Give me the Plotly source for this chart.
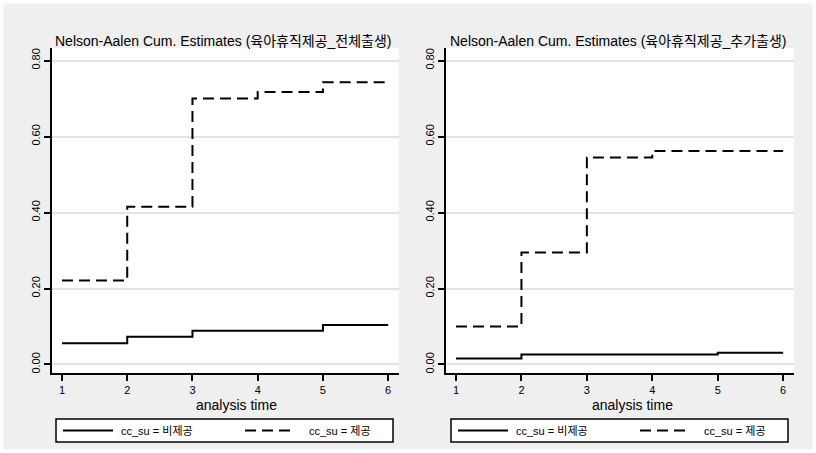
import plotly.graph_objects as go

# ---- data ----
times = [1, 2, 3, 4, 5, 6]
left_nonprov = [0.056, 0.073, 0.089, 0.089, 0.104, 0.104]
left_prov = [0.221, 0.415, 0.700, 0.717, 0.743, 0.743]
right_nonprov = [0.016, 0.026, 0.026, 0.026, 0.031, 0.031]
right_prov = [0.100, 0.295, 0.545, 0.562, 0.562, 0.562]
titles = ["Nelson-Aalen Cum. Estimates (육아휴직제공_전체출생)",
          "Nelson-Aalen Cum. Estimates (육아휴직제공_추가출생)"]
legend_labels = ["cc_su = 비제공", "cc_su = 제공"]
yticks = [0.0, 0.2, 0.4, 0.6, 0.8]
ytick_labels = ["0.00", "0.20", "0.40", "0.60", "0.80"]
xticks = [1, 2, 3, 4, 5, 6]
xlabel = "analysis time"

W, H = 816, 453
FONT = "Liberation Sans, Noto Sans CJK KR, sans-serif"
BG = "#efefef"

def px(x):
    return x / W

def py(y):
    return 1 - y / H

fig = go.Figure()

panels = [
    dict(xa="x", ya="y", x0=52, x1=399, data=(left_nonprov, left_prov)),
    dict(xa="x2", ya="y2", x0=446, x1=794, data=(right_nonprov, right_prov)),
]

for p in panels:
    nonprov, prov = p["data"]
    fig.add_trace(go.Scatter(x=times, y=nonprov, mode="lines", line_shape="hv",
                             line=dict(color="black", width=2), xaxis=p["xa"], yaxis=p["ya"],
                             showlegend=False, name=legend_labels[0]))
    fig.add_trace(go.Scatter(x=times, y=prov, mode="lines", line_shape="hv",
                             line=dict(color="black", width=2, dash="11px,6px"),
                             xaxis=p["xa"], yaxis=p["ya"], showlegend=False, name=legend_labels[1]))

ydom = [py(373), py(48)]
xaxis_common = dict(range=[0.847, 6.166], tickvals=xticks, ticks="outside", ticklen=6,
                    tickwidth=1.5, tickcolor="black", showline=True, linecolor="black",
                    linewidth=1.5, showgrid=False, zeroline=False,
                    tickfont=dict(family=FONT, size=11, color="black"), fixedrange=True)
yaxis_common = dict(range=[-0.0224, 0.833], tickvals=yticks, ticktext=ytick_labels,
                    tickangle=-90, ticks="outside", ticklen=6, tickwidth=1.5,
                    tickcolor="black", showline=True, linecolor="black", linewidth=1.5,
                    showgrid=True, gridcolor="#e4e4e4", gridwidth=1.5, zeroline=False,
                    tickfont=dict(family=FONT, size=11, color="black"), fixedrange=True)

fig.update_layout(
    width=W, height=H,
    margin=dict(l=0, r=0, t=0, b=0),
    paper_bgcolor=BG, plot_bgcolor="white",
    xaxis=dict(domain=[px(52), px(399)], anchor="y", **xaxis_common),
    yaxis=dict(domain=ydom, anchor="x", **yaxis_common),
    xaxis2=dict(domain=[px(446), px(794)], anchor="y2", **xaxis_common),
    yaxis2=dict(domain=ydom, anchor="x2", **yaxis_common),
    showlegend=False,
)

shapes = []
annotations = []
# white outer border
shapes.append(dict(type="rect", xref="paper", yref="paper", x0=0, x1=1, y0=0, y1=1,
                   line=dict(color="white", width=7), layer="above"))

title_x = [53, 448]
xlabel_x = [236, 632]
legend_boxes = [(56, 393), (451, 788)]
for i in range(2):
    annotations.append(dict(text=titles[i], xref="paper", yref="paper",
                            x=px(title_x[i]), y=py(41), xanchor="left", yanchor="middle",
                            showarrow=False, font=dict(family=FONT, size=14, color="black")))
    annotations.append(dict(text=xlabel, xref="paper", yref="paper",
                            x=px(xlabel_x[i]), y=py(405), xanchor="center", yanchor="middle",
                            showarrow=False, font=dict(family=FONT, size=14, color="black")))
    bx0, bx1 = legend_boxes[i]
    shapes.append(dict(type="rect", xref="paper", yref="paper", x0=px(bx0), x1=px(bx1),
                       y0=py(442), y1=py(419), fillcolor="white",
                       line=dict(color="black", width=1.5), layer="above"))
    ly = py(430.5)
    shapes.append(dict(type="line", xref="paper", yref="paper", x0=px(bx0 + 7), x1=px(bx0 + 57),
                       y0=ly, y1=ly, line=dict(color="black", width=2), layer="above"))
    shapes.append(dict(type="line", xref="paper", yref="paper", x0=px(bx0 + 189), x1=px(bx0 + 238),
                       y0=ly, y1=ly, line=dict(color="black", width=2, dash="11px,6px"),
                       layer="above"))
    annotations.append(dict(text=legend_labels[0], xref="paper", yref="paper",
                            x=px(bx0 + 63), y=ly, xanchor="left", yanchor="middle",
                            showarrow=False, font=dict(family=FONT, size=11, color="black")))
    annotations.append(dict(text=legend_labels[1], xref="paper", yref="paper",
                            x=px(bx0 + 251), y=ly, xanchor="left", yanchor="middle",
                            showarrow=False, font=dict(family=FONT, size=11, color="black")))

fig.update_layout(shapes=shapes, annotations=annotations)
fig.write_html("out.html")
